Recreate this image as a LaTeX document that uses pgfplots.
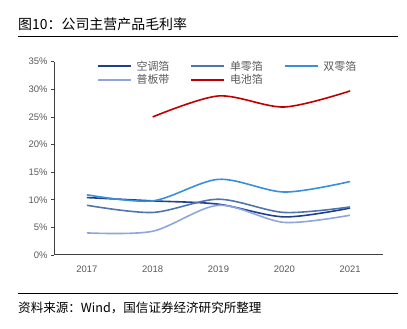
\documentclass[border=0pt]{standalone}
\usepackage{pgfplots}
\pgfplotsset{compat=1.18}
\usepackage{fontspec}
\setmainfont{Liberation Sans}
\newfontfamily\cjk{Noto Sans CJK SC}
\definecolor{kt}{HTML}{203F8C}
\definecolor{dl}{HTML}{4F75B0}
\definecolor{sl}{HTML}{3A8EE0}
\definecolor{pb}{HTML}{8EA6DD}
\definecolor{dc}{HTML}{C00000}
\definecolor{txt}{HTML}{595959}
\definecolor{axc}{HTML}{404040}
\begin{document}
\begin{tikzpicture}
\useasboundingbox (0,0) rectangle (407bp,329bp);
\node[anchor=base west, inner sep=0] at (18bp,299bp) {\cjk\fontsize{14}{16}\selectfont 图10：公司主营产品毛利率};
\draw[line width=1bp, black] (18bp,292bp) -- (398bp,292bp);
\draw[line width=1bp, black] (18bp,35bp) -- (398bp,35bp);
\node[anchor=base west, inner sep=0] at (18bp,17bp) {\cjk\fontsize{12.6}{14}\selectfont 资料来源：Wind，国信证券经济研究所整理};
\begin{axis}[
  at={(54bp,74bp)}, anchor=south west,
  scale only axis, width=329bp, height=193.3bp,
  xmin=2016.5, xmax=2021.5, ymin=0, ymax=35,
  axis x line=bottom, axis y line=left,
  axis line style={draw=axc, line width=1bp, -},
  xtick={2017,2018,2019,2020,2021},
  xticklabels={2017,2018,2019,2020,2021},
  ytick={0,5,...,35},
  yticklabel={\pgfmathprintnumber{\tick}\%},
  /pgf/number format/assume math mode=true,
  ticklabel style={font=\fontsize{9.5}{11}\selectfont, text=txt},
  x tick style={draw=none},
  y tick style={draw=axc, line width=0.8bp},
  tick align=outside, major tick length=3bp,
  xticklabel style={yshift=-4bp},
  legend columns=3,
  legend style={draw=none, fill=none, at={(0.13,1.016)}, anchor=north west,
    font=\cjk\fontsize{11}{12}\selectfont, text=txt,
    inner sep=0pt, row sep=-1bp,
    /tikz/every odd column/.append style={column sep=3bp},
    /tikz/every even column/.append style={column sep=19bp}},
  legend cell align=left,
  legend image code/.code={\draw[#1, line width=1.6bp] (0bp,0bp) -- (33bp,0bp);},
  every axis plot/.append style={line width=1.6bp, smooth, no markers},
]
\addplot[kt] coordinates {(2017,10.4) (2018,9.8) (2019,9.2) (2020,6.9) (2021,8.5)};
\addlegendentry{空调箔}
\addplot[dl] coordinates {(2017,9.0) (2018,7.7) (2019,10.1) (2020,7.7) (2021,8.7)};
\addlegendentry{单零箔}
\addplot[sl] coordinates {(2017,10.9) (2018,9.8) (2019,13.7) (2020,11.4) (2021,13.3)};
\addlegendentry{双零箔}
\addplot[pb] coordinates {(2017,4.0) (2018,4.3) (2019,9.0) (2020,5.9) (2021,7.2)};
\addlegendentry{普板带}
\addplot[dc] coordinates {(2018,25.0) (2019,28.8) (2020,26.8) (2021,29.7)};
\addlegendentry{电池箔}
\end{axis}
\end{tikzpicture}
\end{document}
